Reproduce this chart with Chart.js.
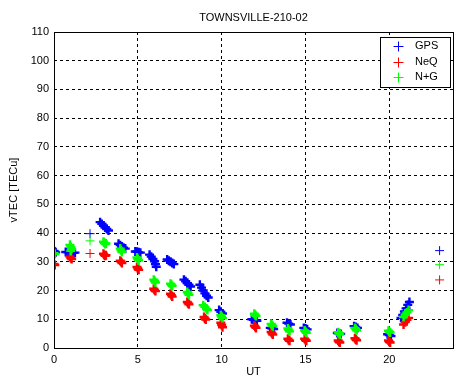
<!DOCTYPE html>
<html>
<head>
<meta charset="utf-8">
<script src="https://cdn.jsdelivr.net/npm/chart.js@4/dist/chart.umd.min.js"></script>
<style>
html,body{margin:0;padding:0;background:#fff;overflow:hidden;}
canvas{display:block;}
</style>
</head>
<body>
<canvas id="c" width="454" height="379"></canvas>
<script>
const chartTitle = "TOWNSVILLE-210-02";
const xLabel = "UT";
const yLabel = "vTEC [TECu]";
const seriesNames = ["GPS", "NeQ", "N+G"];
const seriesColors = ["#0000ff", "#ff0000", "#00ff00"];
const xTicks = [0, 5, 10, 15, 20];
const yTicks = [0, 10, 20, 30, 40, 50, 60, 70, 80, 90, 100, 110];

const gpsUT  = [0.0,0.05,0.1, 0.7,0.85,1.0,1.15,1.25, 2.15, 2.75,2.85,2.95,3.05,3.15,3.25, 3.85,3.95,4.05,4.15,4.25, 4.85,4.95,5.05,5.15, 5.7,5.8,5.9,6.0,6.05,6.1, 6.75,6.85,6.95,7.05,7.15, 7.75,7.85,7.95,8.05,8.15, 8.7,8.8,8.9,9.0,9.1,9.2, 9.85,9.95,10.05, 11.8,11.9,12.0,12.1, 12.9,13.0,13.1, 13.9,14.0,14.1, 14.9,15.0,15.1, 16.9,17.0,17.1, 17.9,18.0,18.1, 19.9,20.0,20.1, 20.7,20.8,20.9,21.0,21.1,21.2, 23.0];
const gpsTEC = [33.8,33.5,33.3, 33.4,33.3,33.2,33.1,33.2, 39.8, 43.8,43.2,42.6,42.0,41.4,40.9, 36.3,35.8,35.3,34.9,34.6, 33.6,33.5,33.3,33.2, 32.5,31.8,31.0,30.2,29.2,28.3, 30.8,30.4,30.0,29.6,29.2, 23.8,23.2,22.6,22.0,21.4, 22.0,21.0,20.0,19.0,18.2,17.6, 13.2,12.6,12.0, 10.0,9.8,9.6,9.5, 7.0,6.8,6.6, 8.8,8.5,8.2, 7.0,6.8,6.5, 5.2,5.0,4.9, 7.6,7.3,7.0, 4.8,4.5,4.2, 10.5,11.5,12.7,13.8,15.0,16.0, 33.9];

const neqUT  = [0.0,0.05, 0.95,1.0,1.05, 2.15, 2.95,3.0,3.05,3.1, 3.95,4.0,4.05, 4.95,5.0,5.05, 5.95,6.0,6.05, 6.95,7.0,7.05, 7.95,8.0,8.05, 8.95,9.0,9.05, 9.95,10.0,10.05, 11.95,12.0,12.05, 12.95,13.0,13.05, 13.95,14.0,14.05, 14.95,15.0,15.05, 16.95,17.0,17.05, 17.95,18.0,18.05, 19.95,20.0,20.05, 20.85,20.95,21.05,21.15, 23.0];
const neqTEC = [29.3,28.9, 31.8,31.3,31.0, 32.9, 32.8,32.4,32.1,32.3, 30.4,30.0,29.6, 28.2,27.7,27.2, 20.6,20.2,19.8, 18.9,18.4,17.9, 16.0,15.6,15.2, 10.8,10.3,9.9, 8.8,8.0,7.2, 7.8,7.4,7.0, 5.6,5.1,4.7, 3.2,2.8,2.5, 3.2,2.8,2.5, 2.6,2.2,1.9, 3.4,3.0,2.7, 2.6,2.2,1.9, 8.2,9.0,9.8,10.5, 23.7];

const ngUT  = [0.0,0.05, 0.95,1.0,1.05,1.0, 2.15, 2.95,3.0,3.05,3.1, 3.95,4.0,4.05, 4.95,5.0,5.05, 5.95,6.0,6.05, 6.95,7.0,7.05, 7.95,8.0,8.05, 8.9,9.0,9.1,9.15, 9.95,10.0,10.05, 11.95,12.0,12.05, 12.95,13.0,13.05, 13.95,14.0,14.05, 14.95,15.0,15.05, 16.95,17.0,17.05, 17.95,18.0,18.05, 19.95,20.0,20.05, 20.85,20.95,21.05,21.15, 23.0];
const ngTEC = [33.0,32.7, 35.9,35.2,34.5,33.8, 37.3, 37.0,36.6,36.2,36.4, 34.6,34.0,33.4, 31.5,31.0,30.5, 23.8,23.3,22.8, 22.4,22.0,21.6, 19.5,19.0,18.5, 14.9,14.3,13.6,13.2, 11.4,10.9,10.4, 11.9,11.5,11.1, 8.4,8.0,7.6, 6.8,6.3,5.8, 6.1,5.7,5.3, 5.5,5.1,4.7, 7.0,6.6,6.2, 6.0,5.7,5.4, 10.8,11.6,12.4,13.2, 29.0];

function pts(xs, ys){ return xs.map((x,i)=>({x:x, y:ys[i]})); }

const FONT = "'Liberation Sans', Arial, sans-serif";

// overlapping readings draw as heavy blobs; isolated readings as thin crosses
function markerWidth(ctx){
  const d = ctx.dataset.data, p = d[ctx.dataIndex];
  if (!p) return 1;
  let n = 0;
  for (const q of d) if (Math.abs(q.x - p.x) < 0.45 && Math.abs(q.y - p.y) < 4) n++;
  return n > 1 ? 2.4 : 1;
}

const framePlugin = {
  id: 'frame',
  afterDraw(chart){
    const {ctx, chartArea:a} = chart;
    ctx.save();
    ctx.strokeStyle = '#000';
    ctx.lineWidth = 1;
    ctx.strokeRect(Math.round(a.left)+0.5, Math.round(a.top)+0.5, Math.round(a.right-a.left), Math.round(a.bottom-a.top));
    ctx.fillStyle = '#000';
    ctx.font = "11px " + FONT;
    ctx.textAlign = 'center';
    ctx.textBaseline = 'middle';
    ctx.fillText(chartTitle, (a.left+a.right)/2, 18);
    const lx = 380, ly = 37, lw = 70, lh = 50;
    ctx.fillStyle = '#fff';
    ctx.fillRect(lx, ly, lw, lh);
    ctx.strokeStyle = '#000';
    ctx.strokeRect(lx+0.5, ly+0.5, lw, lh);
    const rows = [46, 61.5, 76.5];
    chart.data.datasets.forEach((ds, i) => {
      const y = rows[i];
      ctx.strokeStyle = ds.borderColor;
      ctx.lineWidth = 1;
      ctx.beginPath();
      ctx.moveTo(393.5, Math.round(y)+0.5); ctx.lineTo(403.5, Math.round(y)+0.5);
      ctx.moveTo(398.5, Math.round(y)-4.5); ctx.lineTo(398.5, Math.round(y)+5.5);
      ctx.stroke();
      ctx.fillStyle = '#000';
      ctx.textAlign = 'left';
      ctx.fillText(ds.label, 415, y);
    });
    ctx.restore();
  }
};

const mk = (i, xs, ys, order) => ({
  label: seriesNames[i],
  data: pts(xs, ys),
  showLine: false,
  pointStyle: 'cross',
  pointRadius: 4.5,
  pointBorderWidth: markerWidth,
  borderColor: seriesColors[i],
  backgroundColor: seriesColors[i],
  order: order
});

new Chart(document.getElementById('c'), {
  type: 'scatter',
  data: {
    datasets: [
      mk(0, gpsUT, gpsTEC, 3),
      mk(1, neqUT, neqTEC, 2),
      mk(2, ngUT, ngTEC, 1)
    ]
  },
  options: {
    responsive: false,
    animation: false,
    events: [],
    layout: { autoPadding: false, padding: { top: 32, left: 0, right: 1, bottom: 0 } },
    plugins: { legend: { display: false }, title: { display: false }, tooltip: { enabled: false } },
    scales: {
      x: {
        type: 'linear',
        min: 0, max: 23.8,
        afterBuildTicks: s => { s.ticks = xTicks.map(v => ({value: v})); },
        afterFit: s => { s.height = 31; s.paddingLeft = 0; s.paddingRight = 0; },
        grid: { color: '#000', lineWidth: 1, drawTicks: false },
        border: { display: false, dash: [3, 3] },
        ticks: { color: '#000', padding: 5, font: { family: FONT, size: 11 }, maxRotation: 0 },
        title: { display: true, text: xLabel, color: '#000', font: { family: FONT, size: 11 }, padding: 0 }
      },
      y: {
        type: 'linear',
        min: 0, max: 110,
        afterBuildTicks: s => { s.ticks = yTicks.map(v => ({value: v})); },
        afterFit: s => { s.width = 54; s.paddingTop = 0; s.paddingBottom = 0; },
        grid: { color: '#000', lineWidth: 1, drawTicks: false },
        border: { display: false, dash: [3, 3] },
        ticks: { color: '#000', padding: 5, font: { family: FONT, size: 11 } },
        title: { display: true, text: yLabel, color: '#000', font: { family: FONT, size: 11 }, padding: { top: 7, bottom: 0 } }
      }
    }
  },
  plugins: [framePlugin]
});
</script>
</body>
</html>
